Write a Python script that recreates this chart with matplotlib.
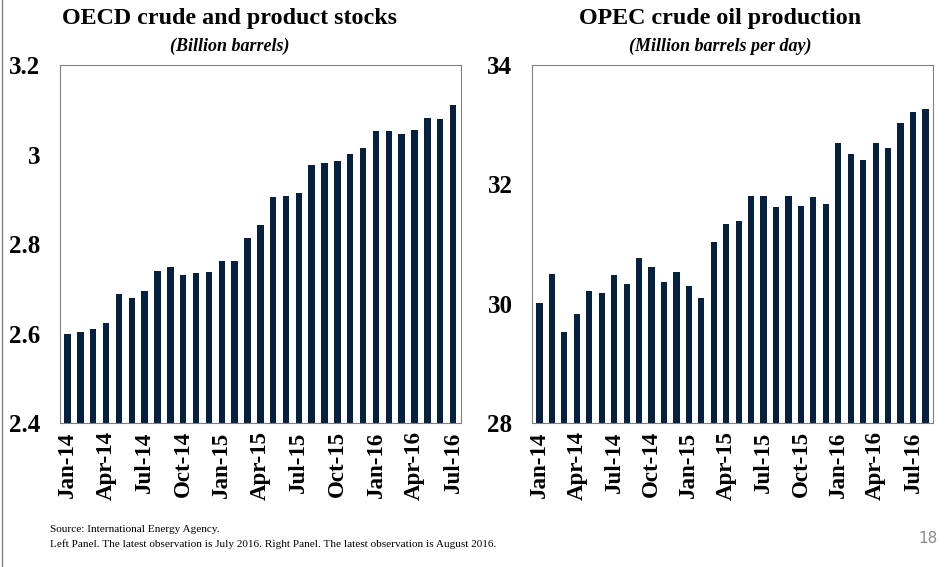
import matplotlib.pyplot as plt
from matplotlib.lines import Line2D

# OECD crude and product stocks, billion barrels, Jan-14 .. Jul-16
oecd_stocks = [2.598, 2.604, 2.610, 2.624, 2.689, 2.680, 2.696, 2.739, 2.749, 2.730,
               2.736, 2.737, 2.762, 2.762, 2.814, 2.842, 2.906, 2.907, 2.915, 2.976,
               2.982, 2.985, 3.001, 3.015, 3.052, 3.052, 3.046, 3.055, 3.082, 3.079,
               3.111]
# OPEC crude oil production, million barrels per day, Jan-14 .. Aug-16
opec_prod = [30.02, 30.50, 29.52, 29.83, 30.21, 30.18, 30.48, 30.33, 30.77, 30.62,
             30.36, 30.53, 30.29, 30.10, 31.04, 31.33, 31.39, 31.80, 31.80, 31.63,
             31.81, 31.64, 31.79, 31.68, 32.69, 32.51, 32.41, 32.70, 32.61, 33.03,
             33.22, 33.26]
tick_labels = ['Jan-14', 'Apr-14', 'Jul-14', 'Oct-14', 'Jan-15', 'Apr-15',
               'Jul-15', 'Oct-15', 'Jan-16', 'Apr-16', 'Jul-16']

plt.rcParams['font.family'] = ['Liberation Serif', 'DejaVu Serif']
navy = '#06203f'

fig = plt.figure(figsize=(9.5, 5.67), dpi=100)
ax1 = fig.add_axes([0.063, 0.254, 0.422, 0.631])
ax2 = fig.add_axes([0.560, 0.254, 0.422, 0.631])

def draw_panel(ax, values, ylim, yticks, ylabels):
    x = list(range(len(values)))
    ax.bar(x, [v - ylim[0] for v in values], bottom=ylim[0], width=0.5, color=navy)
    ax.set_xlim(-0.6, len(values) - 0.4)
    ax.set_ylim(*ylim)
    ax.set_yticks(yticks)
    ax.set_yticklabels(ylabels, fontsize=18, fontweight='bold')
    ax.set_xticks(range(0, 31, 3))
    ax.set_xticklabels(tick_labels, rotation=90, fontsize=16.5, fontweight='bold')
    ax.tick_params(length=0, pad=6)
    ax.tick_params(axis='y', pad=14)
    for s in ax.spines.values():
        s.set_color('#808080')
        s.set_linewidth(0.8)

draw_panel(ax1, oecd_stocks, (2.4, 3.2), [2.4, 2.6, 2.8, 3.0, 3.2],
           ['2.4', '2.6', '2.8', '3', '3.2'])
draw_panel(ax2, opec_prod, (28, 34), [28, 30, 32, 34], ['28', '30', '32', '34'])

fig.text(0.242, 0.968, 'OECD crude and product stocks', ha='center', va='center',
         fontsize=17.3, fontweight='bold')
fig.text(0.242, 0.919, '(Billion barrels)', ha='center', va='center',
         fontsize=13, fontweight='bold', style='italic')
fig.text(0.758, 0.968, 'OPEC crude oil production', ha='center', va='center',
         fontsize=17.3, fontweight='bold')
fig.text(0.758, 0.919, '(Million barrels per day)', ha='center', va='center',
         fontsize=13, fontweight='bold', style='italic')

fig.text(0.053, 0.066, 'Source: International Energy Agency.', fontsize=8.1, va='center')
fig.text(0.053, 0.041, 'Left Panel. The latest observation is July 2016. Right Panel. '
         'The latest observation is August 2016.', fontsize=8.1, va='center')
fig.text(0.987, 0.051, '18', fontsize=11, color='#8a8a8a', ha='right', va='center',
         family='DejaVu Sans')

fig.add_artist(Line2D([0.002, 0.002], [0, 1], transform=fig.transFigure,
                      color='#808080', linewidth=1))

fig.savefig('out.png', dpi=100)
